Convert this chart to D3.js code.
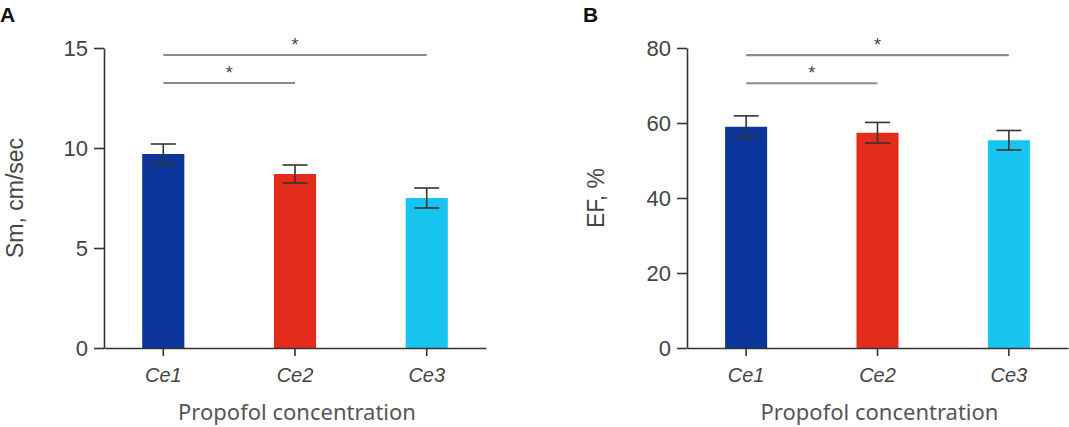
<!DOCTYPE html>
<html>
<head>
<meta charset="utf-8">
<script src="https://cdn.jsdelivr.net/npm/d3@7"></script>
<style>
  body { margin: 0; background: #fff; }
  svg { display: block; }
  .tick text { font-family: "Liberation Sans", Arial, sans-serif; }
</style>
</head>
<body>
<svg id="chart" width="1069" height="427"></svg>
<script>
const categories = ["Ce1", "Ce2", "Ce3"];
const colors = ["#0b3598", "#e32c1c", "#18c5f1"];

// panel A: Sm, cm/sec
const smMean = [9.7, 8.7, 7.5];
const smErr = [0.5, 0.45, 0.5];
const smTicks = [0, 5, 10, 15];
const smSig = [[0, 2, 14.65], [0, 1, 13.25]];

// panel B: EF, %
const efMean = [59.0, 57.4, 55.4];
const efErr = [2.9, 2.75, 2.6];
const efTicks = [0, 20, 40, 60, 80];
const efSig = [[0, 2, 78.1], [0, 1, 70.6]];

const svg = d3.select("#chart");

function drawPanel(opts) {
  const g = svg.append("g");
  const y = d3.scaleLinear().domain(opts.domain).range([348, 48]);
  const x = d3.scaleBand()
    .domain(categories)
    .range([opts.left, opts.right])
    .paddingInner(0.68)
    .paddingOuter(0.29);
  const cx = c => x(c) + x.bandwidth() / 2;

  // bars
  g.selectAll("rect.bar")
    .data(categories)
    .join("rect")
    .attr("class", "bar")
    .attr("x", d => x(d))
    .attr("width", x.bandwidth())
    .attr("y", (d, i) => y(opts.mean[i]))
    .attr("height", (d, i) => y(0) - y(opts.mean[i]))
    .attr("fill", (d, i) => colors[i]);

  // error bars
  const eb = g.selectAll("g.err")
    .data(categories)
    .join("g")
    .attr("class", "err")
    .attr("stroke", "#333")
    .attr("stroke-width", 1.6);
  eb.append("line")
    .attr("x1", d => cx(d)).attr("x2", d => cx(d))
    .attr("y1", (d, i) => y(opts.mean[i] + opts.err[i]))
    .attr("y2", (d, i) => y(opts.mean[i] - opts.err[i]));
  eb.append("line")
    .attr("x1", d => cx(d) - 12.5).attr("x2", d => cx(d) + 12.5)
    .attr("y1", (d, i) => y(opts.mean[i] + opts.err[i]))
    .attr("y2", (d, i) => y(opts.mean[i] + opts.err[i]));
  eb.append("line")
    .attr("x1", d => cx(d) - 12.5).attr("x2", d => cx(d) + 12.5)
    .attr("y1", (d, i) => y(opts.mean[i] - opts.err[i]))
    .attr("y2", (d, i) => y(opts.mean[i] - opts.err[i]));

  // y axis
  const yAxis = g.append("g")
    .attr("transform", `translate(${opts.left},0)`)
    .call(d3.axisLeft(y).tickValues(opts.ticks).tickSize(10).tickPadding(6).tickSizeOuter(0));
  yAxis.select(".domain").attr("stroke", "#333").attr("stroke-width", 1.6);
  yAxis.selectAll(".tick line").attr("stroke", "#333").attr("stroke-width", 1.6);
  yAxis.selectAll(".tick text").attr("font-size", 22).attr("fill", "#444");

  // x axis
  const xAxis = g.append("g")
    .attr("transform", `translate(0,${y(0)})`)
    .call(d3.axisBottom(x).tickSize(8).tickPadding(12).tickSizeOuter(0));
  xAxis.select(".domain").attr("stroke", "#333").attr("stroke-width", 1.6);
  xAxis.selectAll(".tick line").attr("stroke", "#333").attr("stroke-width", 1.6);
  xAxis.selectAll(".tick text")
    .attr("font-family", "'Noto Sans', sans-serif")
    .attr("font-style", "italic")
    .attr("font-size", 20)
    .attr("fill", "#444");

  // significance lines
  opts.sig.forEach(s => {
    g.append("line")
      .attr("x1", cx(categories[s[0]])).attr("x2", cx(categories[s[1]]))
      .attr("y1", y(s[2])).attr("y2", y(s[2]))
      .attr("stroke", "#8a8a8a").attr("stroke-width", 2.2);
    g.append("text")
      .attr("x", (cx(categories[s[0]]) + cx(categories[s[1]])) / 2)
      .attr("y", y(s[2]) - 4)
      .attr("text-anchor", "middle")
      .attr("font-family", "'Liberation Sans', Arial, sans-serif")
      .attr("font-size", 18)
      .attr("fill", "#444")
      .text("*");
  });

  // y label
  g.append("text")
    .attr("transform", `translate(${opts.ylabX},${(y(0) + y(opts.domain[1])) / 2}) rotate(-90)`)
    .attr("text-anchor", "middle")
    .attr("font-family", "'Liberation Sans', Arial, sans-serif")
    .attr("font-size", 23)
    .attr("fill", "#444")
    .text(opts.ylab);

  // x label
  g.append("text")
    .attr("x", (opts.left + opts.right) / 2 + 2)
    .attr("y", 420)
    .attr("text-anchor", "middle")
    .attr("font-family", "'Noto Sans', sans-serif")
    .attr("font-size", 22)
    .attr("fill", "#555")
    .text("Propofol concentration");

  // panel letter
  g.append("text")
    .attr("x", opts.letterX)
    .attr("y", 22)
    .attr("font-family", "'Liberation Sans', Arial, sans-serif")
    .attr("font-weight", "bold")
    .attr("font-size", 21)
    .attr("fill", "#111")
    .text(opts.letter);
}

drawPanel({
  domain: [0, 15], ticks: smTicks, mean: smMean, err: smErr, sig: smSig,
  left: 104, right: 486, ylab: "Sm, cm/sec", ylabX: 23, letter: "A", letterX: 0
});
drawPanel({
  domain: [0, 80], ticks: efTicks, mean: efMean, err: efErr, sig: efSig,
  left: 687, right: 1068, ylab: "EF, %", ylabX: 604, letter: "B", letterX: 583
});
</script>
</body>
</html>
